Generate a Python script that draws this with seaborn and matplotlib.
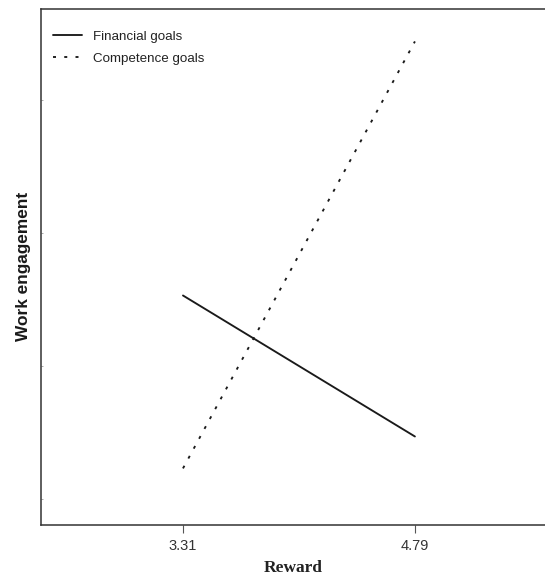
import matplotlib
matplotlib.use("Agg")
import matplotlib.pyplot as plt
import pandas as pd
import seaborn as sns

# Datos (eje y sin etiquetas, unidades relativas)
reward = [3.31, 4.79]
financial = [2.53, 1.47]
competence = [1.23, 4.44]
goal_names = ["Financial goals", "Competence goals"]
y_ticks = [1, 2, 3, 4]

df = pd.DataFrame({
    "Reward": reward * 2,
    "Work engagement": financial + competence,
    "Goal": [goal_names[0]] * 2 + [goal_names[1]] * 2,
})

sns.set_theme(style="white")
plt.rcParams["font.family"] = ["Liberation Sans", "DejaVu Sans"]

fig = plt.figure(figsize=(5.45, 5.76), dpi=100)
ax = fig.add_axes([0.0752, 0.0891, 0.9248, 0.8958])

sns.lineplot(data=df, x="Reward", y="Work engagement", hue="Goal", style="Goal",
             palette={goal_names[0]: "#1a1a1a", goal_names[1]: "#1a1a1a"},
             dashes={goal_names[0]: "", goal_names[1]: (1.6, 4.4)},
             linewidth=1.35, ax=ax)

ax.set_xlim(2.404, 5.62)
ax.set_ylim(0.807, 4.686)
ax.set_xticks(reward)
ax.set_xticklabels([f"{v:.2f}" for v in reward])
ax.set_yticks(y_ticks)
ax.set_yticklabels([])

for side in ["left", "bottom", "top"]:
    ax.spines[side].set_color("#333333")
    ax.spines[side].set_linewidth(1.1)
ax.spines["right"].set_visible(False)

ax.tick_params(axis="x", direction="out", length=5.8, width=0.8, color="#555555",
               labelsize=10.5, labelcolor="#333333", pad=4.5, bottom=True)
ax.tick_params(axis="y", direction="in", length=1.5, width=0.6, color="#999999", left=True)

ax.set_xlabel("Reward", fontsize=12.5, fontweight="bold", family="Liberation Serif",
              color="#222222", labelpad=5)
ax.set_ylabel("Work engagement", fontsize=12.4, fontweight="bold", color="#1a1a1a",
              labelpad=4)

leg = ax.legend(loc="upper left", bbox_to_anchor=(0.023, 0.958), frameon=False,
                fontsize=9.6, handlelength=2.2, handletextpad=0.8, labelspacing=0.72,
                borderaxespad=0, borderpad=0)
for t in leg.get_texts():
    t.set_color("#222222")

fig.savefig("out.png", dpi=100)
